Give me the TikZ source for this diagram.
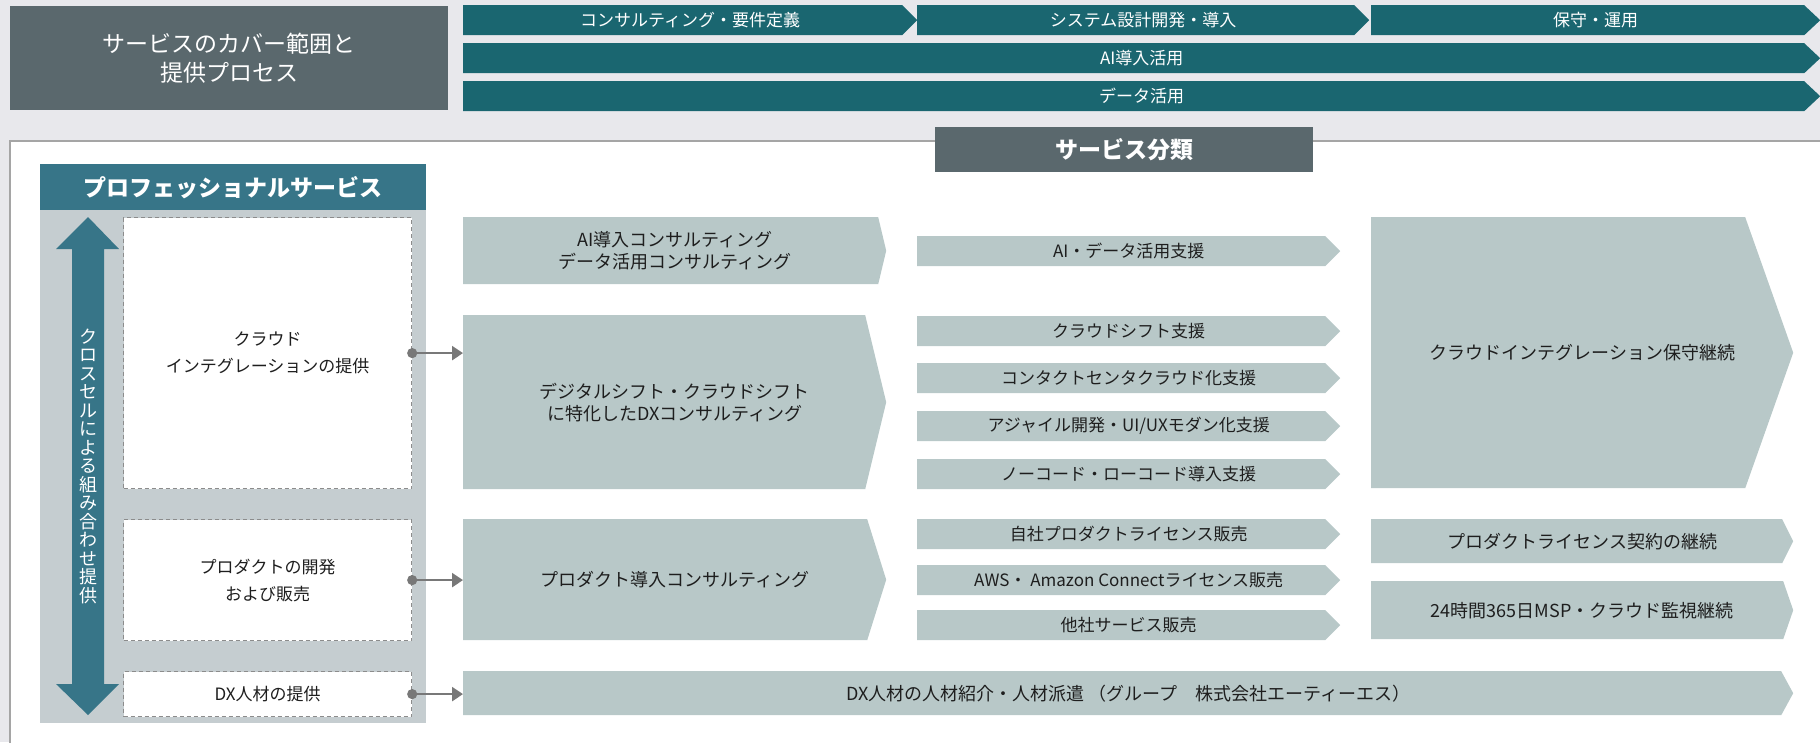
\documentclass[tikz,border=0pt]{standalone}
\usepackage{fontspec}
\setmainfont{Noto Sans CJK JP}
\usetikzlibrary{arrows.meta,calc}
\definecolor{bgc}{RGB}{232,232,236}
\definecolor{slatec}{RGB}{90,104,109}
\definecolor{barc}{RGB}{26,102,112}
\definecolor{proc}{RGB}{55,117,136}
\definecolor{contc}{RGB}{197,205,208}
\definecolor{shpc}{RGB}{184,200,200}
\definecolor{conc}{RGB}{120,120,120}
\definecolor{dashc}{RGB}{140,140,140}
\definecolor{panelc}{RGB}{165,165,165}
\definecolor{txtc}{RGB}{30,30,30}
\begin{document}
\begin{tikzpicture}[x=1pt,y=-1pt,
  hp/.style 2 args={inner sep=0pt, align=center, anchor=north west,
    path picture={\fill[#2] (path picture bounding box.north west)
      -- ([xshift=-#1pt]path picture bounding box.north east)
      -- (path picture bounding box.east)
      -- ([xshift=-#1pt]path picture bounding box.south east)
      -- (path picture bounding box.south west) -- cycle;}},
  wh/.style 2 args={minimum width=#1pt, minimum height=#2pt},
  bar/.style={hp={#1}{barc}, text=white, font=\fontsize{17}{20}\selectfont},
  svc/.style={hp={#1}{shpc}, text=txtc, font=\fontsize{18}{22}\selectfont},
  smallsvc/.style={hp={15}{shpc}, text=txtc, font=\fontsize{17}{20}\selectfont, wh={423}{30}},
  headbox/.style={inner sep=0pt, anchor=north west, text=white, align=center},
  dbox/.style={draw=dashc, dash pattern=on 4pt off 3pt, line width=1.2pt, fill=white,
    text=txtc, font=\fontsize{17}{27}\selectfont, align=center, anchor=north west, inner sep=0pt},
  conn/.style={draw=conc, line width=2.5pt, {Circle[length=10pt]}-{Triangle[length=11pt,width=14pt]}}
]
\fill[bgc] (0,0) rectangle (1820,742);
\useasboundingbox (0,0) rectangle (1820,742);

% top area
\node[headbox, fill=slatec, wh={438}{104}, font=\fontsize{23}{29}\selectfont] (title) at (10,6)
  {サービスのカバー範囲と\\提供プロセス};
\node[bar=15, wh={454}{30}] (t1) at (463,5) {コンサルティング・要件定義};
\node[bar=15, wh={452}{30}] (t2) at (917,5) {システム設計開発・導入};
\node[bar=16, wh={449}{30}] (t3) at (1371,5) {保守・運用};
\node[bar=16, wh={1357}{30}] (t4) at (463,43) {AI導入活用};
\node[bar=16, wh={1357}{30}] (t5) at (463,81) {データ活用};

% panel
\draw[fill=white, draw=panelc, line width=1.2pt] (10,141) rectangle (1830,752);
\node[headbox, fill=slatec, wh={378}{45}, font=\bfseries\fontsize{23}{28}\selectfont] (cat) at (935,127) {サービス分類};

% professional services
\node[headbox, fill=proc, wh={386}{46}, font=\bfseries\fontsize{23}{28}\selectfont] (pro) at (40,164) {プロフェッショナルサービス};
\node[inner sep=0pt, anchor=north west, fill=contc, wh={386}{513}] (cont) at (40,210) {};
\fill[proc] (88,217) -- (119,249) -- (104,249) -- (104,684) -- (119,684) -- (88,715)
  -- (56,684) -- (72,684) -- (72,249) -- (56,249) -- cycle;
\node[text=white, font=\fontsize{18}{18.5}\selectfont, align=center, inner sep=0pt] (cross) at (88,466)
  {ク\\ロ\\ス\\セ\\ル\\に\\よ\\る\\組\\み\\合\\わ\\せ\\提\\供};

\node[dbox, wh={288}{271}] (b1) at (123,217) {クラウド\\インテグレーションの提供};
\node[dbox, wh={288}{121}] (b2) at (123,519) {プロダクトの開発\\および販売};
\node[dbox, wh={288}{45}] (b3) at (123,671) {DX人材の提供};

% column 2
\node[svc=8, wh={423}{67}] (c1) at (463,217) {AI導入コンサルティング\\データ活用コンサルティング};
\node[svc=21, wh={423}{174}] (c2) at (463,315) {デジタルシフト・クラウドシフト\\に特化したDXコンサルティング};
\node[svc=19, wh={423}{121}] (c3) at (463,519) {プロダクト導入コンサルティング};
\node[svc=12, wh={1330}{44}] (c4) at (463,671) {DX人材の人材紹介・人材派遣 （グループ\quad 株式会社エーティーエス）};

% column 3
\node[smallsvc] (s1) at (917,236) {AI・データ活用支援};
\node[smallsvc] (s2) at (917,316) {クラウドシフト支援};
\node[smallsvc] (s3) at (917,363) {コンタクトセンタクラウド化支援};
\node[smallsvc] (s4) at (917,411) {アジャイル開発・UI/UXモダン化支援};
\node[smallsvc] (s5) at (917,459) {ノーコード・ローコード導入支援};
\node[smallsvc] (s6) at (917,519) {自社プロダクトライセンス販売};
\node[smallsvc] (s7) at (917,565) {AWS・ Amazon Connectライセンス販売};
\node[smallsvc] (s8) at (917,610) {他社サービス販売};

% column 4
\node[svc=48, wh={422}{271}] (r1) at (1371,217) {クラウドインテグレーション保守継続};
\node[svc=11, wh={422}{44}] (r2) at (1371,519) {プロダクトライセンス契約の継続};
\node[svc=10, wh={422}{58}] (r3) at (1371,581) {24時間365日MSP・クラウド監視継続};

% connectors
\draw[conn] ([xshift=-5pt]b1.east) -- (b1.east -| c2.west);
\draw[conn] ([xshift=-5pt]b2.east) -- (b2.east -| c3.west);
\draw[conn] ([xshift=-5pt]b3.east) -- (b3.east -| c4.west);
\end{tikzpicture}
\end{document}
